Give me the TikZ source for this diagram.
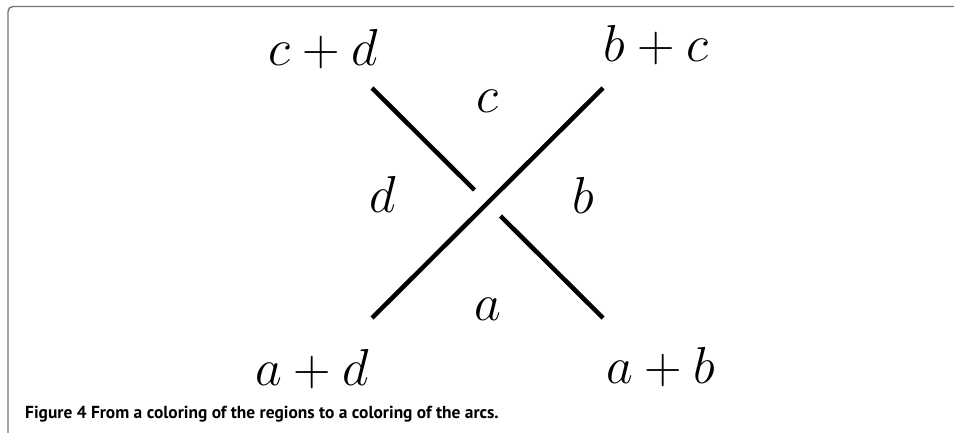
\RequirePackage{fix-cm}
\documentclass[tikz,border=0pt]{standalone}
\usepackage{fontspec}
\newfontfamily\capfont{PT Sans}
\tikzset{strand/.style={
    line width=4.5pt,
    line cap=butt
  },
  mlabel/.style={
    anchor=base,
    inner sep=0pt,
    font=\fontsize{52}{60}\selectfont
  },
  sumlabel/.style={mlabel},
  frameline/.style={draw=black!55,line width=1.4pt,rounded corners=5pt},
}
\begin{document}
\begin{tikzpicture}[x=1pt,y=-1pt]
  \useasboundingbox (0,0) rectangle (954,433);
  \draw[frameline] (8,433) -- (8,6.5) -- (954,6.5);
  % ends of the two strands
  \coordinate (sw) at (372,318);
  \coordinate (ne) at (603,88);
  \coordinate (nw) at (372,88);
  \coordinate (se) at (603,318);
  \coordinate (cross) at (487.5,203);
  \coordinate (gapnw) at (474.5,190);
  \coordinate (gapse) at (500.5,216);
  \draw[strand] (sw) -- (ne);
  \draw[strand] (nw) -- (gapnw);
  \draw[strand] (gapse) -- (se);
  % regions
  \node[mlabel] (regc) at (487.5,113) {$c$};
  \node[mlabel] (regd) at (383,212) {$d$};
  \node[mlabel] (regb) at (583,214) {$b$};
  \node[mlabel] (rega) at (487.5,320) {$a$};
  % arcs
  \node[sumlabel] (arccd) at (323,66) {$c+d$};
  \node[sumlabel] (arcbc) at (656,62) {$b+c$};
  \node[sumlabel] (arcad) at (312,385) {$a+d$};
  \node[sumlabel] (arcab) at (661,383) {$a+b$};
  \node[anchor=base west,inner sep=0pt,font=\capfont\bfseries\fontsize{17.4}{20}\selectfont] (caption) at (25,418)
    {Figure 4 From a coloring of the regions to a coloring of the arcs.};
\end{tikzpicture}
\end{document}
